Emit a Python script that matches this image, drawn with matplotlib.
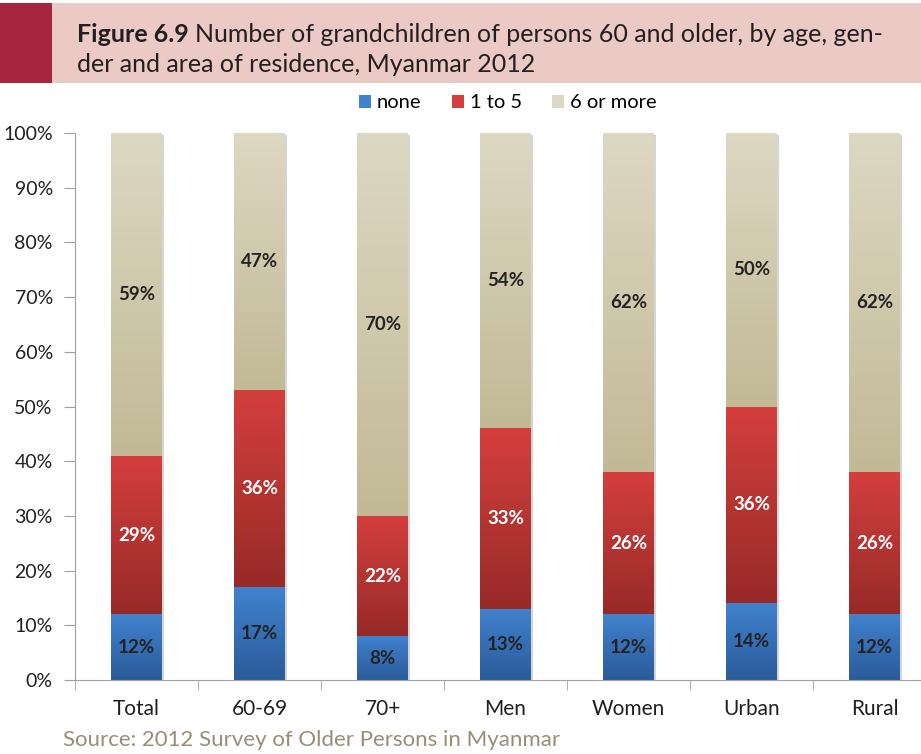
import numpy as np
import matplotlib
matplotlib.use("Agg")
import matplotlib.pyplot as plt
import matplotlib.patches as mpatches
import matplotlib.patheffects as pe
from matplotlib.colors import LinearSegmentedColormap
from matplotlib.ticker import PercentFormatter

plt.rcParams['font.family'] = ['Lato', 'DejaVu Sans']

CATEGORIES = ['Total', '60-69', '70+', 'Men', 'Women', 'Urban', 'Rural']
NONE = [12, 17, 8, 13, 12, 14, 12]
ONE_TO_FIVE = [29, 36, 22, 33, 26, 36, 26]
SIX_PLUS = [59, 47, 70, 54, 62, 50, 62]
SERIES_NAMES = ['none', '1 to 5', '6 or more']

# (top colour, bottom colour) of each segment's vertical gradient
GRADIENTS = [('#4182ce', '#2a5b9a'),
             ('#d43f3d', '#972a28'),
             ('#ddd8c3', '#c2b995')]
LABEL_COLORS = ['#222222', 'white', '#222222']

W, H = 921, 754
DPI = 100


def fill_gradient(ax, bar, top, bottom):
    x0, y0 = bar.get_x(), bar.get_y()
    w, h = bar.get_width(), bar.get_height()
    cmap = LinearSegmentedColormap.from_list('seg', [bottom, top])
    grad = np.linspace(0, 1, 256).reshape(-1, 1)
    im = ax.imshow(grad, cmap=cmap, origin='lower', aspect='auto',
                   extent=(x0, x0 + w, y0, y0 + h),
                   interpolation='bicubic', zorder=bar.get_zorder() + 0.1)
    im.set_clip_path(bar)


def main():
    fig = plt.figure(figsize=(W / DPI, H / DPI), dpi=DPI)
    fig.patch.set_facecolor('white')

    # title banner
    fig.patches.append(mpatches.Rectangle((0, 1 - 83 / H), 1, 80 / H,
                                          transform=fig.transFigure,
                                          facecolor='#ebc9c5', edgecolor='none'))
    fig.patches.append(mpatches.Rectangle((0, 1 - 83 / H), 52 / W, 80 / H,
                                          transform=fig.transFigure,
                                          facecolor='#a8253f', edgecolor='none'))
    t1 = fig.text(77 / W, 1 - 34 / H, 'Figure 6.9', fontsize=18,
                  fontweight='bold', color='#231f20', va='center')
    renderer = fig.canvas.get_renderer()
    bb = t1.get_window_extent(renderer=renderer)
    fig.text((bb.x1 + 6) / W, 1 - 34 / H,
             'Number of grandchildren of persons 60 and older, by age, gen-',
             fontsize=18, color='#231f20', va='center')
    fig.text(77 / W, 1 - 64 / H, 'der and area of residence, Myanmar 2012',
             fontsize=18, color='#231f20', va='center')

    ax = fig.add_axes([75 / W, 74 / H, 861 / W, 547 / H])
    x = np.arange(len(CATEGORIES))
    bottom = np.zeros(len(CATEGORIES))
    handles = []
    for values, name, (top_c, bot_c), lab_c in zip(
            [NONE, ONE_TO_FIVE, SIX_PLUS], SERIES_NAMES, GRADIENTS, LABEL_COLORS):
        vals = np.array(values) / 100
        bars = ax.bar(x, vals, bottom=bottom, width=0.41, color=bot_c,
                      edgecolor='none', zorder=2, label=name)
        for bar in bars:
            bar.set_path_effects([pe.SimplePatchShadow(offset=(1.5, -1.5),
                                                       shadow_rgbFace='#888888',
                                                       alpha=0.35),
                                  pe.Normal()])
            fill_gradient(ax, bar, top_c, bot_c)
        for xi, b, v in zip(x, bottom, values):
            ax.text(xi, b + v / 200, f'{v}%', ha='center', va='center',
                    fontsize=13.5, fontweight='bold', color=lab_c, zorder=5)
        handles.append(mpatches.Patch(facecolor=top_c, edgecolor='none', label=name))
        bottom += vals

    ax.set_xlim(-0.5, len(CATEGORIES) - 0.5)
    ax.set_ylim(0, 1)
    ax.yaxis.set_major_formatter(PercentFormatter(1.0, decimals=0))
    ax.set_yticks(np.arange(0, 1.01, 0.1))
    ax.set_xticks(x)
    ax.set_xticklabels(CATEGORIES)
    ax.set_xticks(np.arange(-0.5, len(CATEGORIES), 1), minor=True)
    ax.tick_params(axis='x', which='major', length=0, pad=14,
                   labelsize=15, labelcolor='#231f20')
    ax.tick_params(axis='x', which='minor', length=7, color='#a0a0a0')
    ax.tick_params(axis='y', length=8, color='#a0a0a0', pad=8,
                   labelsize=14, labelcolor='#231f20')
    for side in ['top', 'right']:
        ax.spines[side].set_visible(False)
    for side in ['left', 'bottom']:
        ax.spines[side].set_color('#a0a0a0')
    ax.set_facecolor('none')

    fig.legend(handles=handles, loc='center', bbox_to_anchor=(508 / W, 1 - 103 / H),
               ncol=3, frameon=False, fontsize=14.5, handlelength=0.6,
               handleheight=0.6, handletextpad=0.3, columnspacing=1.5)

    fig.text(63 / W, 1 - 740 / H, 'Source: 2012 Survey of Older Persons in Myanmar',
             fontsize=16, color='#978d7a', va='center')

    fig.savefig('out.png', dpi=DPI)


if __name__ == "__main__":
    main()
